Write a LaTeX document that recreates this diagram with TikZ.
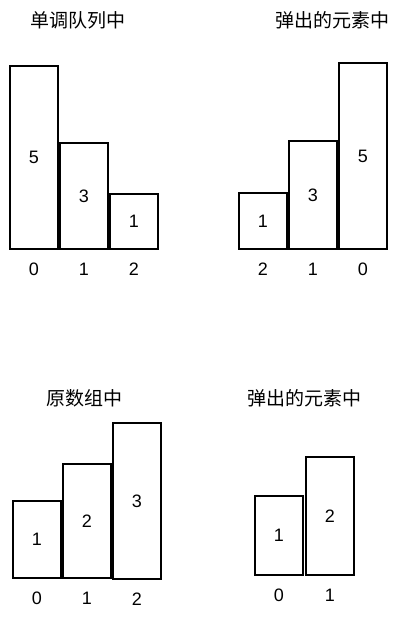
\documentclass[tikz,border=0pt]{standalone}
\usepackage{fontspec}
\setmainfont{Liberation Sans}
\newfontfamily\cjk{Noto Sans CJK SC}
\usetikzlibrary{positioning}

\tikzset{
  bar/.style={draw, line width=1.8pt, minimum width=48pt, inner sep=0pt, font=\fontsize{18}{18}\selectfont},
  idx/.style={inner sep=0pt, font=\fontsize{18}{18}\selectfont},
  title/.style={inner sep=0pt, font=\cjk\fontsize{19}{19}\selectfont}
}

\begin{document}
\begin{tikzpicture}[x=1pt,y=-1pt]
    \useasboundingbox (0,0) rectangle (402,622);
    % 单调队列
    \node[title] (tq) at (78,20) {单调队列中};
    \foreach \n/\v/\i/\cx/\cy/\h in {a0/5/0/34/157.5/183, a1/3/1/84/196/106, a2/1/2/134/221.5/55} {
        \node[bar, minimum height={\h pt}, text depth=-4pt] (\n) at (\cx,\cy) {\v};
        \node[idx, below=13pt of \n] (\n i) {\i};
    }
    % 弹出的元素 (上)
    \node[title] (tp) at (332,20) {弹出的元素中};
    \foreach \n/\v/\i/\cx/\cy/\h in {b0/1/2/263/221/56, b1/3/1/313/195/108, b2/5/0/363/156/186} {
        \node[bar, minimum height={\h pt}, text depth=-4pt] (\n) at (\cx,\cy) {\v};
        \node[idx, below=13pt of \n] (\n i) {\i};
    }
    % 原数组
    \node[title] (ta) at (84,398) {原数组中};
    \foreach \n/\v/\i/\cx/\cy/\h in {c0/1/0/37/539.5/77, c1/2/1/87/521/114, c2/3/2/137/501/156} {
        \node[bar, minimum height={\h pt}, text depth=-4pt] (\n) at (\cx,\cy) {\v};
        \node[idx, below=13pt of \n] (\n i) {\i};
    }
    % 弹出的元素 (下)
    \node[title] (tr) at (304,398) {弹出的元素中};
    \foreach \n/\v/\i/\cx/\cy/\h in {d0/1/0/279/535.5/79, d1/2/1/330/516/118} {
        \node[bar, minimum height={\h pt}, text depth=-4pt] (\n) at (\cx,\cy) {\v};
        \node[idx, below=13pt of \n] (\n i) {\i};
    }
\end{tikzpicture}
\end{document}
